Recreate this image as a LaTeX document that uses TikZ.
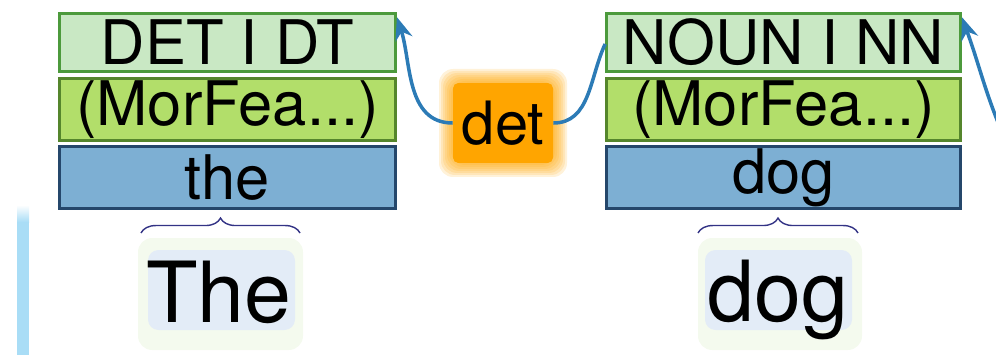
\documentclass[tikz,border=0pt]{standalone}
\usepackage{fontspec}
\setmainfont{TeX Gyre Heros}
\usetikzlibrary{arrows.meta,decorations.pathreplacing}

\definecolor{uposfill}{HTML}{C9E8C4}
\definecolor{uposline}{HTML}{4C9A3C}
\definecolor{featfill}{HTML}{B2DE6A}
\definecolor{featline}{HTML}{55862C}
\definecolor{formfill}{HTML}{7DAFD3}
\definecolor{formline}{HTML}{25476B}
\definecolor{deprelfill}{HTML}{FFA500}
\definecolor{arcblue}{HTML}{2C7BB6}
\definecolor{tokfill}{HTML}{E3ECF7}
\definecolor{tokglow}{HTML}{F4FAEE}
\definecolor{barblue}{HTML}{A9DDF6}

\tikzset{
    layer/.style={draw, line width=1.6pt, inner sep=0pt,
        font=\fontsize{35}{42}\selectfont},
    upos/.style={layer, fill=uposfill, draw=uposline, minimum height=1.16cm},
    feats/.style={layer, fill=featfill, draw=featline, minimum height=1.24cm},
    form/.style={layer, fill=formfill, draw=formline, minimum height=1.24cm},
    deprel/.style={fill=deprelfill, rounded corners=3pt, minimum width=2.0cm,
        minimum height=1.6cm, font=\fontsize{34}{40}\selectfont},
    arc/.style={draw=arcblue, line width=2pt},
    token/.style={anchor=base, font=\fontsize{48}{56}\selectfont},
    span/.style={draw=black!60!blue!80!white, line width=0.8pt,
        decorate, decoration={brace, amplitude=8.5pt}}
}

\begin{document}
    \begin{tikzpicture}[x=0.02cm, y=0.02cm]
        \useasboundingbox (0,0) rectangle (996,355);
        \clip (0,0) rectangle (996,355);

        \shade[top color=white, bottom color=barblue] (17,150) rectangle (29,133);
        \fill[barblue] (17,133) rectangle (29,0);

        \node[upos, minimum width=6.72cm] (lupos) at (227.5,312.5) {DET I DT};
        \node[feats, minimum width=6.72cm] (lfeats) at (227.5,245.5) {(MorFea...)};
        \node[form, minimum width=6.72cm] (lform) at (227.5,177.5) {the};

        \node[upos, minimum width=7.08cm] (rupos) at (783.5,312.5) {NOUN I NN};
        \node[feats, minimum width=7.08cm] (rfeats) at (783.5,245.5) {(MorFea...)};
        \node[form, minimum width=7.08cm] (rform) at (783.5,177.5) {dog};

        \fill[tokglow, rounded corners=8pt] (138,117) rectangle (303,5);
        \fill[tokfill, rounded corners=6pt] (148,105) rectangle (295,25);
        \fill[tokglow, rounded corners=8pt] (698,117) rectangle (862,5);
        \fill[tokfill, rounded corners=6pt] (705,105) rectangle (852,25);

        \node[token] (tthe) at (219,33) {The};
        \node[token] (tdog) at (778,34) {dog};

        \draw[span] (141,122) -- (300,122);
        \draw[span] (698,122) -- (858,122);

        \foreach \s in {1,...,8}
            \fill[deprelfill, opacity=0.15, rounded corners=8pt]
                (503-48-2*\s, 232-38-2*\s) rectangle (503+48+2*\s, 232+38+2*\s);
        \node[deprel] (det) at (503,232) {det};

        \coordinate (nextdep) at (1010,205);

        \draw[arc, -{Stealth[length=13pt, width=10pt]}] (det.west)
            to[out=180, in=-72] ([yshift=-0.1cm]lupos.north east);
        \draw[arc] (det.east) to[out=0, in=-115] ([yshift=-0.03cm]rupos.west);
        \draw[arc, -{Stealth[length=13pt, width=10pt]}] (nextdep)
            to[out=115, in=-70] ([yshift=-0.1cm]rupos.north east);

    \end{tikzpicture}
\end{document}
